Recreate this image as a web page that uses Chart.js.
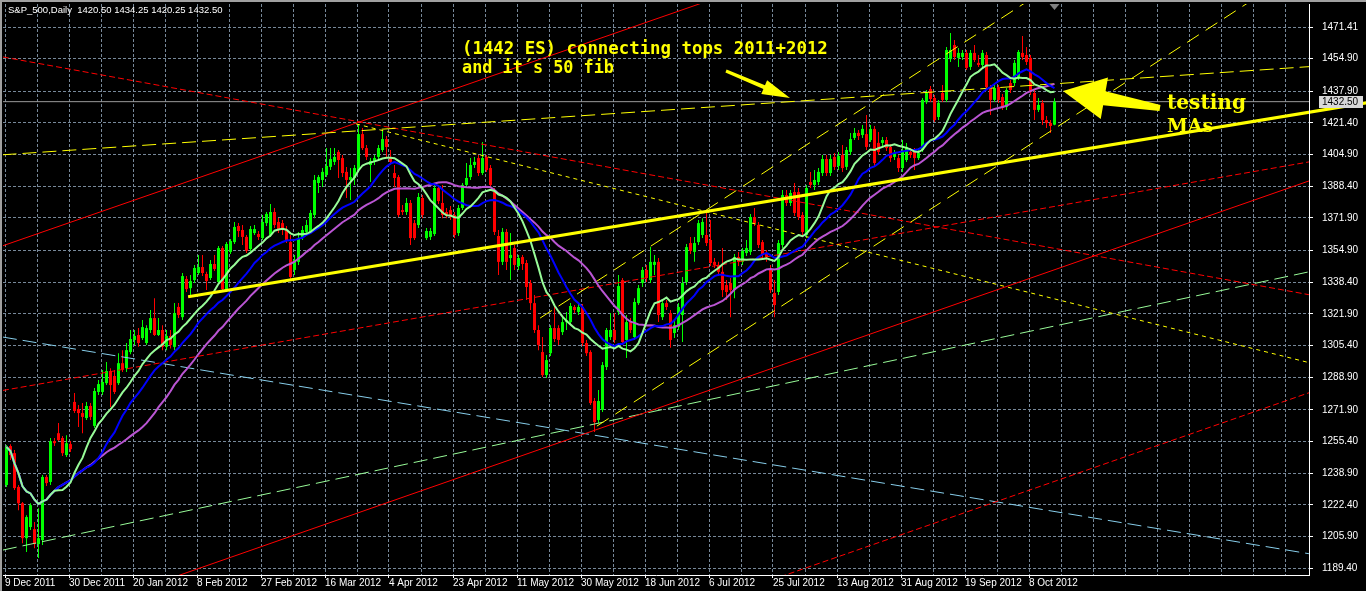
<!DOCTYPE html>
<html><head><meta charset="utf-8">
<style>html,body{margin:0;padding:0;background:#000;overflow:hidden}canvas{display:block}</style>
<script src="https://cdn.jsdelivr.net/npm/chart.js@4.4.1/dist/chart.umd.min.js"></script>
</head><body>
<canvas id="c" width="1366" height="591"></canvas>
<script>
// ---------- DATA ----------
const symbolTitle = 'S&P_500,Daily';
const opens = [
1232.7,1253.0,1249.3,1231.7,1223.2,1205.0,1210.8,1209.7,1201.9,1204.0,
1236.9,1234.3,1255.6,1259.7,1257.2,1248.3,1254.0,1276.0,1272.3,1270.2,
1267.6,1273.9,1263.5,1281.2,1281.2,1285.8,1292.1,1289.5,1285.8,1296.2,
1293.6,1302.0,1308.3,1310.9,1309.3,1306.7,1313.5,1319.7,1310.9,1313.5,
1304.7,1310.4,1304.7,1325.5,1320.2,1340.1,1335.3,1339.5,1343.2,1346.3,
1342.7,1340.6,1347.9,1338.5,1356.2,1334.8,1354.2,1359.3,1367.7,1365.6,
1362.0,1355.7,1364.0,1363.5,1361.4,1369.2,1363.0,1375.0,1369.8,1369.2,
1365.6,1359.3,1344.8,1349.0,1362.0,1364.6,1364.6,1373.4,1390.1,1391.7,
1394.3,1398.5,1401.1,1406.3,1403.1,1395.9,1391.7,1392.7,1396.9,1415.6,
1408.3,1399.5,1401.1,1403.7,1407.3,1413.0,1403.7,1395.3,1393.2,1376.0,
1375.0,1379.7,1369.2,1368.2,1382.3,1361.4,1362.0,1363.5,1387.5,1379.7,
1375.0,1376.0,1373.4,1364.0,1377.1,1389.1,1393.2,1399.5,1403.1,1395.3,
1403.7,1397.9,1385.4,1362.5,1349.0,1364.6,1351.0,1356.2,1346.8,1351.5,
1348.4,1338.0,1327.5,1313.5,1302.0,1290.0,1301.4,1314.5,1314.5,1312.4,
1317.6,1317.6,1325.5,1322.9,1325.5,1306.7,1302.0,1276.5,1266.6,1271.8,
1294.2,1309.8,1313.5,1322.9,1339.5,1308.3,1317.6,1309.8,1327.5,1338.0,
1344.8,1339.5,1347.4,1349.0,1320.2,1327.5,1322.3,1311.9,1315.0,1321.3,
1338.5,1358.8,1354.2,1359.3,1363.0,1363.0,1360.4,1349.0,1347.4,1343.8,
1336.9,1338.0,1334.3,1351.5,1349.0,1353.6,1354.2,1372.4,1368.2,1359.3,
1353.6,1344.8,1332.8,1333.3,1357.8,1383.8,1379.7,1385.4,1385.4,1373.4,
1363.0,1390.6,1389.1,1390.6,1395.3,1402.6,1395.3,1403.7,1399.0,1404.7,
1398.5,1406.3,1413.6,1416.2,1415.1,1415.6,1412.5,1418.3,1411.0,1411.0,
1412.5,1408.9,1403.7,1403.1,1397.9,1402.1,1406.3,1406.3,1403.1,1407.3,
1432.3,1439.1,1434.4,1424.5,1437.0,1433.4,1454.7,1462.0,1455.3,1455.8,
1457.9,1450.6,1457.9,1452.7,1451.6,1456.8,1440.1,1433.4,1440.1,1434.9,
1429.7,1442.2,1442.2,1445.4,1457.9,1456.8,1455.3,1437.0,1428.2,1431.8,
1422.9,1421.4,1420.50];
const highs = [
1253.5,1254.0,1250.9,1232.7,1223.8,1217.0,1223.2,1213.4,1220.6,1237.9,
1237.9,1257.2,1257.2,1265.0,1258.2,1258.7,1255.6,1280.6,1274.4,1275.4,
1276.0,1275.4,1283.2,1287.4,1292.6,1296.8,1293.6,1292.6,1301.4,1303.0,
1306.7,1313.5,1313.5,1314.5,1318.7,1316.0,1323.9,1330.1,1319.7,1316.0,
1313.5,1313.5,1327.5,1327.5,1343.2,1341.6,1342.2,1347.4,1352.6,1352.6,
1343.8,1350.0,1352.6,1357.3,1357.3,1359.3,1360.9,1369.8,1369.2,1368.2,
1363.0,1367.7,1368.2,1365.1,1373.4,1375.0,1379.2,1377.1,1371.9,1370.8,
1367.7,1363.0,1352.6,1364.6,1367.7,1370.8,1376.0,1394.3,1394.3,1397.9,
1408.3,1408.3,1408.3,1407.3,1404.7,1398.5,1397.9,1399.5,1420.3,1418.8,
1409.9,1403.1,1404.7,1409.9,1417.7,1414.6,1407.3,1399.5,1394.3,1378.6,
1382.3,1381.2,1370.8,1384.9,1383.8,1366.6,1366.6,1389.1,1389.1,1389.1,
1377.1,1378.1,1375.0,1378.6,1390.1,1400.5,1403.1,1403.7,1404.7,1411.5,
1404.7,1399.5,1387.5,1365.6,1366.6,1366.1,1364.0,1357.8,1352.6,1352.6,
1350.0,1339.5,1331.7,1316.0,1309.8,1300.4,1316.0,1326.5,1316.0,1320.2,
1322.9,1327.5,1326.5,1327.0,1327.0,1308.3,1303.0,1278.0,1282.2,1296.8,
1314.5,1322.3,1322.3,1342.2,1340.6,1321.3,1319.7,1330.1,1336.9,1346.3,
1347.4,1356.7,1352.6,1351.0,1329.1,1329.1,1323.9,1318.7,1327.5,1341.1,
1358.3,1362.0,1362.0,1370.8,1371.8,1376.0,1370.8,1351.0,1349.0,1356.2,
1339.5,1340.6,1353.1,1354.2,1356.2,1360.4,1373.9,1377.1,1369.8,1360.4,
1355.2,1347.4,1339.5,1360.4,1386.5,1386.5,1386.5,1390.1,1387.5,1375.0,
1389.1,1395.9,1396.9,1397.9,1404.7,1404.7,1404.7,1405.7,1406.3,1409.9,
1408.9,1416.2,1418.8,1417.7,1420.3,1425.6,1420.3,1419.8,1416.7,1414.1,
1414.1,1410.4,1407.3,1404.7,1412.5,1411.0,1408.3,1408.3,1408.3,1434.4,
1438.6,1440.7,1436.0,1433.4,1441.2,1461.0,1468.3,1464.6,1460.5,1459.4,
1459.4,1459.4,1462.0,1456.8,1459.4,1458.4,1441.2,1441.2,1441.2,1436.5,
1439.6,1443.8,1454.2,1459.4,1466.7,1461.0,1456.8,1438.6,1434.4,1433.4,
1425.0,1422.9,1434.25];
const lows = [
1231.7,1245.7,1230.1,1219.6,1202.4,1197.8,1209.2,1199.8,1194.6,1201.4,
1232.2,1232.7,1253.0,1255.6,1247.8,1247.3,1249.9,1270.2,1263.0,1259.7,
1266.6,1266.6,1262.4,1279.6,1279.6,1284.8,1273.4,1280.1,1284.8,1291.6,
1291.6,1300.9,1305.7,1304.7,1308.3,1305.7,1311.9,1310.4,1310.4,1303.0,
1303.0,1303.8,1303.0,1319.7,1318.7,1333.3,1331.7,1338.0,1342.2,1341.6,
1334.3,1339.5,1344.3,1337.5,1333.8,1333.3,1353.1,1358.3,1362.0,1357.8,
1353.6,1354.7,1363.0,1360.4,1360.4,1367.7,1362.0,1366.6,1364.0,1363.0,
1358.8,1340.1,1342.2,1347.4,1360.4,1363.0,1363.5,1371.8,1384.9,1388.0,
1393.2,1396.9,1399.5,1392.7,1393.2,1382.3,1381.2,1389.1,1395.9,1407.3,
1402.1,1390.6,1399.5,1402.1,1406.3,1403.1,1399.5,1388.0,1372.4,1373.4,
1373.4,1357.8,1360.4,1366.6,1371.8,1360.4,1360.4,1362.5,1379.2,1371.8,
1371.8,1370.8,1361.4,1362.5,1376.0,1387.5,1391.7,1397.9,1393.8,1394.3,
1395.9,1387.5,1363.0,1342.2,1347.4,1344.8,1339.5,1344.8,1344.8,1344.8,
1329.1,1323.9,1311.9,1303.0,1289.0,1288.5,1299.9,1307.2,1305.7,1310.9,
1313.5,1316.0,1322.3,1321.3,1305.1,1299.9,1274.4,1260.3,1265.0,1270.7,
1292.6,1308.3,1306.7,1321.3,1305.7,1298.9,1311.9,1308.3,1326.5,1335.9,
1338.5,1338.0,1342.2,1317.6,1318.7,1323.9,1304.2,1309.3,1313.5,1307.2,
1336.9,1353.1,1349.0,1357.8,1361.4,1357.3,1346.8,1345.8,1341.6,1330.7,
1329.1,1320.2,1330.1,1346.8,1347.4,1352.1,1352.6,1367.7,1356.2,1351.0,
1349.0,1332.8,1320.2,1331.7,1356.2,1378.1,1378.1,1372.9,1370.8,1363.0,
1361.4,1387.5,1386.5,1389.1,1393.8,1393.8,1393.8,1396.9,1396.9,1395.9,
1396.9,1404.7,1412.5,1412.5,1413.6,1407.3,1411.5,1399.0,1404.7,1409.4,
1406.8,1401.1,1402.1,1395.9,1395.9,1401.1,1403.1,1396.9,1402.1,1406.3,
1431.3,1432.3,1421.9,1422.9,1432.3,1432.3,1453.2,1454.2,1450.6,1454.2,
1449.0,1449.0,1453.2,1450.6,1450.6,1439.1,1425.6,1432.3,1431.8,1428.2,
1428.2,1437.0,1440.7,1443.8,1454.2,1451.6,1436.0,1422.9,1427.1,1420.3,
1418.8,1416.2,1420.25];
const closes = [
1252.5,1248.3,1231.1,1223.2,1205.0,1216.0,1222.2,1201.9,1205.0,1236.9,
1233.7,1255.6,1254.5,1256.1,1249.3,1254.5,1251.4,1271.3,1270.2,1268.2,
1273.9,1268.2,1281.7,1285.3,1286.4,1292.1,1284.8,1281.2,1296.2,1293.1,
1303.0,1308.8,1310.4,1306.7,1315.0,1314.5,1319.7,1310.9,1313.5,1304.7,
1310.4,1305.7,1322.3,1321.3,1341.6,1334.8,1339.0,1345.8,1346.3,1343.2,
1339.0,1347.9,1345.3,1356.2,1334.8,1358.3,1359.9,1367.2,1365.1,1362.0,
1354.7,1366.1,1366.1,1362.0,1369.8,1374.0,1375.0,1368.2,1365.6,1365.6,
1360.4,1341.1,1350.0,1361.4,1365.6,1368.2,1374.5,1391.7,1393.2,1395.9,
1399.0,1402.6,1403.7,1402.1,1395.3,1391.7,1393.2,1397.9,1415.6,1408.3,
1403.7,1401.6,1403.1,1408.3,1413.0,1408.9,1401.1,1392.7,1373.4,1375.0,
1379.7,1361.4,1361.4,1382.8,1373.4,1365.1,1365.1,1387.5,1380.7,1373.4,
1373.4,1372.4,1363.0,1377.1,1389.1,1392.7,1399.5,1401.1,1395.3,1403.1,
1396.9,1389.1,1364.6,1349.0,1364.6,1349.0,1352.6,1347.4,1351.0,1347.9,
1335.9,1327.5,1313.5,1305.7,1290.0,1297.8,1314.5,1308.8,1308.3,1317.6,
1318.7,1326.0,1323.9,1325.5,1306.7,1301.4,1275.4,1265.5,1276.5,1295.2,
1313.5,1313.5,1308.3,1336.4,1307.2,1317.6,1313.5,1328.1,1335.3,1344.8,
1340.6,1349.0,1349.0,1321.3,1327.5,1325.5,1308.3,1316.0,1325.5,1338.0,
1356.7,1354.7,1358.8,1369.2,1369.8,1358.8,1348.4,1347.4,1343.8,1334.3,
1333.3,1334.3,1351.5,1349.0,1354.7,1356.2,1372.4,1369.2,1357.8,1352.6,
1351.5,1334.3,1326.5,1358.8,1383.8,1379.7,1384.9,1374.5,1372.4,1364.6,
1387.5,1389.1,1391.7,1395.9,1402.6,1395.3,1402.6,1398.5,1404.2,1397.9,
1407.3,1413.0,1416.2,1414.6,1418.3,1408.9,1418.3,1400.5,1406.3,1412.5,
1408.3,1403.1,1405.7,1397.9,1406.3,1408.9,1404.7,1403.1,1405.7,1433.4,
1437.0,1433.9,1422.9,1431.8,1433.4,1459.4,1459.4,1455.8,1457.9,1457.9,
1450.1,1457.9,1454.2,1451.6,1457.9,1440.1,1433.4,1439.6,1433.4,1429.2,
1438.6,1438.6,1452.7,1458.4,1455.8,1453.2,1437.5,1428.2,1430.8,1422.9,
1421.4,1419.8,1432.50];

// moving average periods shown on the chart
const maPeriods = [13, 21, 34];

// tick labels
const priceTicks = [1189.40,1205.90,1222.40,1238.90,1255.40,1271.90,1288.90,1305.40,1321.90,
  1338.40,1354.90,1371.90,1388.40,1404.90,1421.40,1437.90,1454.90,1471.41];
const dateLabels = ['9 Dec 2011','30 Dec 2011','20 Jan 2012','8 Feb 2012','27 Feb 2012','16 Mar 2012',
  '4 Apr 2012','23 Apr 2012','11 May 2012','30 May 2012','18 Jun 2012','6 Jul 2012','25 Jul 2012',
  '13 Aug 2012','31 Aug 2012','19 Sep 2012','8 Oct 2012'];
const dateLabelBars = [0,16,32,48,64,80,96,112,128,144,160,176,192,208,224,240,256];

// hand-drawn objects, as [bar, price] endpoints
const lineSupport   = [[45.4, 1330.8], [340.0, 1431.9]];
const lineTops      = [[-1.0, 1404.8], [326.0, 1450.8]];
const lineMarchDown = [[87.4, 1420.9], [325.6, 1296.5]];
const lineChanUp    = [[133.4, 1319.7], [258.4, 1489.1]];
const lineChanLow   = [[147.6, 1263.4], [315.9, 1491.5]];
const lineRedA      = [[-1.6, 1356.9], [178.4, 1487.2]];
const lineRedB      = [[40.9, 1184.0], [328.4, 1393.2]];
const lineRedC      = [[193.4, 1184.8], [328.4, 1282.8]];
const lineRedD1     = [[-0.9, 1455.8], [325.6, 1331.9]];
const lineRedD2     = [[-0.9, 1282.0], [325.6, 1401.1]];
const lineBlue      = [[-0.9, 1309.8], [325.6, 1196.9]];
const lineGreen     = [[-0.9, 1198.8], [325.6, 1343.8]];

const lastBar = { open: 1420.50, high: 1434.25, low: 1420.25, close: 1432.50 };

// ---------- CHART ----------
const X_MIN = -0.875, X_MAX = 325.625;
const Y_MIN = 1185.8, Y_MAX = 1483.4;
const UP = '#00FF00', DOWN = '#FF0000';
const candleColors = closes.map((c, i) => c >= opens[i] ? UP : DOWN);
const gridBars = [];
for (let k = 0; k <= 40; k++) gridBars.push(8 * k - 0.375);

function sma(n) {
  return closes.map((_, i) => {
    const s = Math.max(0, i - n + 1); let t = 0;
    for (let j = s; j <= i; j++) t += closes[j];
    return { x: i, y: t / (i - s + 1) };
  });
}
function seg(pts, color, width, dash, order, clip) {
  return { type: 'line', data: pts.map(p => ({ x: p[0], y: p[1] })), borderColor: color,
    borderWidth: width, borderDash: dash, pointRadius: 0, fill: false, tension: 0,
    clip: clip === undefined ? 0 : clip, order };
}

const datasets = [
  { type: 'bar', data: closes.map((_, i) => ({ x: i, y: [lows[i], highs[i]] })), backgroundColor: candleColors,
    barThickness: 1, grouped: false, borderWidth: 0, inflateAmount: 0, order: 100 },
  { type: 'bar', data: closes.map((_, i) => ({ x: i, y: [opens[i], closes[i]] })), backgroundColor: candleColors,
    barThickness: 3, grouped: false, borderWidth: 0, inflateAmount: 0, minBarLength: 1, order: 99 },
  seg([[-2, lastBar.close], [330, lastBar.close]], '#9a9a9a', 1, [], 120),
  seg(lineRedA, '#FF0000', 1, [], 60),
  seg(lineRedB, '#FF0000', 1, [], 60),
  seg(lineRedC, '#FF0000', 1, [6, 3], 60),
  seg(lineRedD1, '#FF0000', 1, [6, 3], 60),
  seg(lineRedD2, '#FF0000', 1, [6, 3], 60),
  seg(lineBlue, '#87CEEB', 1, [14, 6], 60),
  seg(lineGreen, '#98FB98', 1, [14, 6], 60),
  seg(lineTops, '#FFFF00', 1, [14, 6], 55),
  seg(lineMarchDown, '#FFFF00', 1, [4, 4], 55),
  seg(lineChanUp, '#FFFF00', 1, [14, 8], 55),
  seg(lineChanLow, '#FFFF00', 1, [14, 8], 55),
  { type: 'line', data: sma(maPeriods[2]), borderColor: '#BA55D3', borderWidth: 2, pointRadius: 0, tension: 0, clip: 0, order: 32 },
  { type: 'line', data: sma(maPeriods[1]), borderColor: '#0000FF', borderWidth: 2, pointRadius: 0, tension: 0, clip: 0, order: 31 },
  { type: 'line', data: sma(maPeriods[0]), borderColor: '#98FB98', borderWidth: 2, pointRadius: 0, tension: 0, clip: 0, order: 30 },
  seg(lineSupport, '#FFFF00', 3, [], 20, { left: 0, top: 0, right: 60, bottom: 0 }),
];

function arrow(c, x1, y1, x2, y2, shaftW1, shaftW2, headW, headL) {
  const dx = x2 - x1, dy = y2 - y1, len = Math.hypot(dx, dy), ux = dx / len, uy = dy / len, nx = -uy, ny = ux;
  const bx = x2 - ux * headL, by = y2 - uy * headL;
  c.beginPath();
  c.moveTo(x1 + nx * shaftW1 / 2, y1 + ny * shaftW1 / 2);
  c.lineTo(bx + nx * shaftW2 / 2, by + ny * shaftW2 / 2);
  c.lineTo(bx + nx * headW / 2, by + ny * headW / 2);
  c.lineTo(x2, y2);
  c.lineTo(bx - nx * headW / 2, by - ny * headW / 2);
  c.lineTo(bx - nx * shaftW2 / 2, by - ny * shaftW2 / 2);
  c.lineTo(x1 - nx * shaftW1 / 2, y1 - ny * shaftW1 / 2);
  c.closePath(); c.fill();
}
function fitText(c, txt, x, y, w, weight, family, size) {
  c.font = weight + ' ' + size + 'px ' + family;
  const m = c.measureText(txt).width;
  const s = size * w / m;
  c.font = weight + ' ' + s.toFixed(2) + 'px ' + family;
  c.fillText(txt, x, y);
}

const decor = {
  id: 'decor',
  beforeDraw(chart) {
    const c = chart.ctx; c.save(); c.fillStyle = '#000'; c.fillRect(0, 0, chart.width, chart.height); c.restore();
  },
  afterDatasetsDraw(chart) {
    const c = chart.ctx; c.save();
    c.fillStyle = '#FFFF00';
    c.textBaseline = 'alphabetic';
    fitText(c, '(1442 ES) connecting tops 2011+2012', 462, 54, 366, 'bold', '"DejaVu Sans Mono"', 17);
    fitText(c, 'and it\u00B4s 50 fib', 462, 73, 152, 'bold', '"DejaVu Sans Mono"', 17);
    fitText(c, 'testing', 1167, 109, 79, 'bold', '"DejaVu Serif"', 18);
    fitText(c, 'MAs', 1167, 132, 46, 'bold', '"DejaVu Serif"', 18);
    arrow(c, 726, 71, 790, 98, 3, 4, 15, 28);
    arrow(c, 1160, 108, 1063, 91, 6, 14, 42, 42);
    c.restore();
  },
  afterDraw(chart) {
    const c = chart.ctx, a = chart.chartArea; c.save();
    // window frame
    c.fillStyle = '#a0a0a0'; c.fillRect(0, 0, chart.width, 2); c.fillRect(0, 0, 2, chart.height);
    c.strokeStyle = '#ffffff'; c.lineWidth = 1;
    c.beginPath(); c.moveTo(a.right + 0.5, a.top); c.lineTo(a.right + 0.5, a.bottom + 1);
    c.moveTo(a.left, a.bottom + 0.5); c.lineTo(a.right + 1, a.bottom + 0.5); c.stroke();
    // header
    c.fillStyle = '#ffffff'; c.font = '9.5px "Liberation Sans"'; c.textBaseline = 'middle';
    c.fillText(symbolTitle + '  ' + [lastBar.open, lastBar.high, lastBar.low, lastBar.close].map(v => v.toFixed(2)).join(' '), 8, 10);
    // current price box
    const y = Math.round(chart.scales.y.getPixelForValue(lastBar.close));
    c.font = '10px "Liberation Sans"';
    c.fillStyle = '#d8d8d8'; c.fillRect(a.right + 10, y - 6, 44, 12);
    c.fillStyle = '#000'; c.fillText(lastBar.close.toFixed(2), a.right + 13, y + 0.5);
    // chart shift marker
    const sx = chart.scales.x.getPixelForValue(closes.length - 1);
    c.fillStyle = '#808080'; c.beginPath(); c.moveTo(sx - 5, 4); c.lineTo(sx + 5, 4); c.lineTo(sx, 10); c.closePath(); c.fill();
    c.restore();
  }
};

new Chart(document.getElementById('c'), {
  type: 'bar',
  data: { datasets },
  options: {
    responsive: false, animation: false, devicePixelRatio: 1, events: [],
    layout: { padding: { left: 3, top: 4, right: 0, bottom: 0 } },
    plugins: { legend: { display: false }, tooltip: { enabled: false } },
    scales: {
      x: {
        type: 'linear', position: 'bottom', min: X_MIN, max: X_MAX, offset: false,
        grid: { offset: false, color: '#778899', lineWidth: 1, drawTicks: true, tickLength: 3,
          tickColor: ctx => (ctx.tick && dateLabelBars.includes(Math.round(ctx.tick.value + 0.375))) ? '#ffffff' : 'rgba(0,0,0,0)',
          tickBorderDash: [] },
        border: { display: false, dash: [3, 2] },
        afterBuildTicks: s => { s.ticks = gridBars.map(v => ({ value: v })); },
        afterFit: s => { s.height = 16; s.paddingLeft = 0; s.paddingRight = 0; },
        ticks: { autoSkip: false, maxRotation: 0, minRotation: 0, align: 'start', padding: -1, color: '#ffffff',
          font: { family: 'Liberation Sans', size: 10 },
          callback: v => { const k = dateLabelBars.indexOf(Math.round(v + 0.375)); return k >= 0 ? dateLabels[k] : ''; } }
      },
      y: {
        type: 'linear', position: 'right', min: Y_MIN, max: Y_MAX,
        grid: { color: '#778899', lineWidth: 1, drawTicks: true, tickLength: 4, tickColor: '#ffffff', tickBorderDash: [] },
        border: { display: false, dash: [3, 2] },
        afterBuildTicks: s => { s.ticks = priceTicks.map(v => ({ value: v })); },
        afterFit: s => { s.width = 57; s.paddingTop = 0; s.paddingBottom = 0; },
        ticks: { padding: 9, color: '#ffffff', font: { family: 'Liberation Sans', size: 10 }, callback: v => v.toFixed(2) }
      }
    }
  },
  plugins: [decor]
});
</script>
</body></html>
